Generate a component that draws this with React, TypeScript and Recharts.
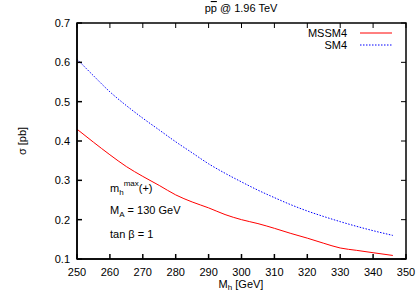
import { LineChart, Line, XAxis, YAxis } from "recharts";

const massGeV = [250, 255, 260, 265, 270, 275, 280, 285, 290, 295, 300, 305, 310, 315, 320, 325, 330, 335, 340, 346];
const mssm4 = [0.43, 0.397, 0.365, 0.335, 0.31, 0.287, 0.263, 0.245, 0.23, 0.213, 0.2, 0.19, 0.178, 0.165, 0.153, 0.14, 0.128, 0.122, 0.116, 0.109];
const sm4 = [0.608, 0.566, 0.525, 0.49, 0.458, 0.428, 0.398, 0.37, 0.342, 0.318, 0.296, 0.275, 0.256, 0.238, 0.222, 0.208, 0.195, 0.183, 0.172, 0.16];
const xTicks = [250, 260, 270, 280, 290, 300, 310, 320, 330, 340, 350];
const yTicks = [0.1, 0.2, 0.3, 0.4, 0.5, 0.6, 0.7];
const xDomain = [250, 350];
const yDomain = [0.1, 0.7];

const data = massGeV.map((m, i) => ({ m, mssm4: mssm4[i], sm4: sm4[i] }));

const FONT = "'Liberation Sans', Arial, sans-serif";
const tickStyle = { fontSize: 11, fill: "#000", fontFamily: FONT };

// plot area from margins + axis sizes (left 77, top 23, right 14, bottom 35)
const area = { x: 77, y: 23, width: 329, height: 236 };

// gnuplot-style closed frame, with mirrored inward ticks on top and right
function Frame() {
  const { x, y, width, height } = area;
  const px = (v: number) => x + ((v - xDomain[0]) / (xDomain[1] - xDomain[0])) * width;
  const py = (v: number) => y + height - ((v - yDomain[0]) / (yDomain[1] - yDomain[0])) * height;
  return (
    <svg width={420} height={294} style={{ position: "absolute", left: 0, top: 0, pointerEvents: "none", zIndex: 5 }}>
      <rect x={x} y={y} width={width} height={height} fill="none" stroke="#000" strokeWidth={1.5} />
      {xTicks.map((t) => (
        <line key={"t" + t} x1={px(t)} x2={px(t)} y1={y} y2={y + 5} stroke="#000" strokeWidth={1} />
      ))}
      {yTicks.map((t) => (
        <line key={"r" + t} x1={x + width} x2={x + width - 5} y1={py(t)} y2={py(t)} stroke="#000" strokeWidth={1} />
      ))}
    </svg>
  );
}

export default function App() {
  return (
    <div style={{ position: "absolute", left: 0, top: 0, width: 420, height: 294, background: "#fff" }}>
      <LineChart width={420} height={294} data={data} margin={{ top: 23, right: 14, bottom: 0, left: 0 }}>
        <XAxis
          dataKey="m"
          type="number"
          domain={xDomain}
          ticks={xTicks}
          height={35}
          tickSize={-5}
          tickMargin={14}
          stroke="#000"
          strokeWidth={1.5}
          tick={tickStyle}
          tickFormatter={(v) => String(v)}
        />
        <YAxis
          type="number"
          domain={yDomain}
          ticks={yTicks}
          width={77}
          tickSize={-5}
          tickMargin={12}
          stroke="#000"
          strokeWidth={1.5}
          tick={tickStyle}
          tickFormatter={(v) => v.toFixed(1)}
        />
        <Line dataKey="mssm4" stroke="#ff0000" strokeWidth={1} dot={false} isAnimationActive={false} type="monotone" />
        <Line dataKey="sm4" stroke="#0000ff" strokeWidth={1} strokeDasharray="1.5 1.5" dot={false} isAnimationActive={false} type="monotone" />

        <text x={241} y={12} textAnchor="middle" fontSize={11} fontFamily={FONT}>
          p<tspan style={{ textDecoration: "overline" }}>p</tspan> @ 1.96 TeV
        </text>
        <text x={241} y={288} textAnchor="middle" fontSize={11} fontFamily={FONT}>
          M<tspan fontSize={8} dy={2}>h</tspan><tspan dy={-2}> [GeV]</tspan>
        </text>
        <text x={26} y={141} textAnchor="middle" fontSize={11} fontFamily={FONT} transform="rotate(-90 26 141)">
          σ [pb]
        </text>

        <text x={347} y={37} textAnchor="end" fontSize={11} fontFamily={FONT}>MSSM4</text>
        <line x1={360} x2={392} y1={33} y2={33} stroke="#ff0000" strokeWidth={1} />
        <text x={347} y={49} textAnchor="end" fontSize={11} fontFamily={FONT}>SM4</text>
        <line x1={360} x2={392} y1={45} y2={45} stroke="#0000ff" strokeWidth={1} strokeDasharray="1.5 1.5" />

        <text x={110} y={192} fontSize={11} fontFamily={FONT}>
          m<tspan fontSize={8} dy={3}>h</tspan><tspan fontSize={8} dy={-9}>max</tspan><tspan dy={6}>(+)</tspan>
        </text>
        <text x={110} y={214} fontSize={11} fontFamily={FONT}>
          M<tspan fontSize={8} dy={3}>A</tspan><tspan dy={-3}> = 130 GeV</tspan>
        </text>
        <text x={110} y={238} fontSize={11} fontFamily={FONT}>tan β = 1</text>
      </LineChart>
      <Frame />
    </div>
  );
}
